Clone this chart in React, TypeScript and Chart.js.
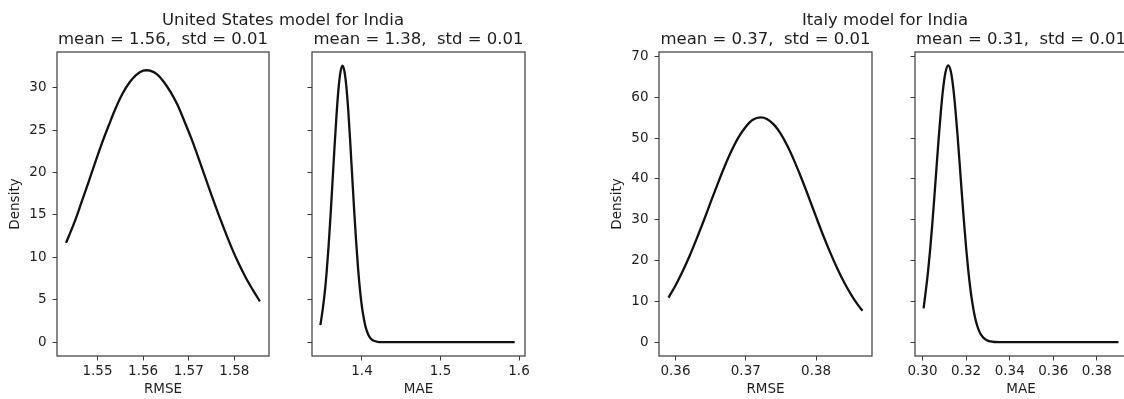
import React, { useEffect, useRef } from 'react';
import { Chart, registerables } from 'chart.js';

Chart.register(...registerables);

// ---------- data ----------
// United States model for India — RMSE density
const usRmseX = [1.5431, 1.545, 1.5465, 1.548, 1.5495, 1.551, 1.5525, 1.554, 1.5555, 1.557, 1.5585, 1.56, 1.5608, 1.5615, 1.563, 1.5645, 1.566, 1.5675, 1.569, 1.5705, 1.572, 1.5735, 1.575, 1.5765, 1.578, 1.5795, 1.581, 1.5825, 1.584, 1.5856];
const usRmseY = [11.7, 14.2, 16.5, 18.8, 21.2, 23.5, 25.6, 27.6, 29.3, 30.6, 31.5, 32.0, 32.05, 32.0, 31.6, 30.7, 29.5, 28.0, 26.1, 24.1, 21.9, 19.6, 17.3, 15.1, 13.0, 11.0, 9.2, 7.6, 6.2, 4.8];

// United States model for India — MAE density
const usMaeX = [1.347, 1.35, 1.3525, 1.355, 1.3575, 1.36, 1.3625, 1.365, 1.3675, 1.37, 1.3725, 1.3752, 1.3775, 1.38, 1.3825, 1.385, 1.3875, 1.39, 1.3925, 1.395, 1.3975, 1.4, 1.4025, 1.405, 1.4075, 1.41, 1.4125, 1.415, 1.42, 1.425, 1.44, 1.47, 1.5, 1.53, 1.56, 1.5945];
const usMaeY = [2.0, 3.9, 5.8, 8.3, 11.4, 15.0, 19.0, 23.0, 26.7, 29.8, 31.8, 32.6, 32.0, 30.2, 27.3, 23.6, 19.6, 15.6, 11.9, 8.7, 6.1, 4.1, 2.7, 1.65, 1.0, 0.56, 0.31, 0.16, 0.04, 0.01, 0, 0, 0, 0, 0, 0];

// Italy model for India — RMSE density
const itRmseX = [0.359, 0.36, 0.361, 0.362, 0.363, 0.364, 0.365, 0.366, 0.367, 0.368, 0.369, 0.37, 0.371, 0.3721, 0.373, 0.374, 0.375, 0.376, 0.377, 0.378, 0.379, 0.38, 0.381, 0.382, 0.383, 0.384, 0.385, 0.386, 0.3866];
const itRmseY = [10.9, 13.9, 17.3, 21.1, 25.3, 29.7, 34.3, 38.8, 43.1, 47.0, 50.3, 52.8, 54.5, 55.1, 54.7, 53.3, 51.0, 47.8, 44.0, 39.8, 35.3, 30.7, 26.2, 22.0, 18.1, 14.6, 11.6, 9.0, 7.7];

// Italy model for India — MAE density
const itMaeX = [0.3005, 0.3015, 0.3025, 0.3035, 0.3045, 0.3055, 0.3065, 0.3075, 0.3085, 0.3095, 0.3105, 0.3118, 0.313, 0.314, 0.315, 0.316, 0.317, 0.318, 0.319, 0.32, 0.321, 0.322, 0.323, 0.324, 0.325, 0.326, 0.327, 0.328, 0.3295, 0.331, 0.333, 0.336, 0.345, 0.36, 0.375, 0.3899];
const itMaeY = [8.3, 12.5, 17.1, 22.6, 29.0, 36.0, 43.3, 50.5, 57.0, 62.3, 66.0, 67.8, 66.3, 62.8, 57.6, 51.2, 44.1, 36.7, 29.7, 23.2, 17.6, 12.9, 9.2, 6.3, 4.2, 2.7, 1.7, 1.04, 0.46, 0.17, 0.04, 0.01, 0, 0, 0, 0];

// ticks
const usRmseTicks = [1.55, 1.56, 1.57, 1.58];
const usRmseTickLabels = ['1.55', '1.56', '1.57', '1.58'];
const usMaeTicks = [1.4, 1.5, 1.6];
const usMaeTickLabels = ['1.4', '1.5', '1.6'];
const itRmseTicks = [0.36, 0.37, 0.38];
const itRmseTickLabels = ['0.36', '0.37', '0.38'];
const itMaeTicks = [0.3, 0.32, 0.34, 0.36, 0.38];
const itMaeTickLabels = ['0.30', '0.32', '0.34', '0.36', '0.38'];
const usDensityTicks = [0, 5, 10, 15, 20, 25, 30];
const usDensityTickLabels = ['0', '5', '10', '15', '20', '25', '30'];
const itDensityTicks = [0, 10, 20, 30, 40, 50, 60, 70];
const itDensityTickLabels = ['0', '10', '20', '30', '40', '50', '60', '70'];

// titles
const suptitles = ['United States model for India', 'Italy model for India'];
const subtitles = ['mean = 1.56,  std = 0.01', 'mean = 1.38,  std = 0.01', 'mean = 0.37,  std = 0.01', 'mean = 0.31,  std = 0.01'];

// ---------- layout ----------
const FONT = "'DejaVu Sans', sans-serif";
const INK = '#1e1e1e';
const FRAME_COLOR = '#3a3a3a';
const H = 399;
const FRAME_TOP = 52;
const FRAME_H = 304;
const LW = 57;
const RP = 25;
const TICK_FONT = 13.5;

type PanelProps = {
  frameLeft: number;
  frameWidth: number;
  xMin: number;
  xMax: number;
  yMin: number;
  yMax: number;
  xs: number[];
  ys: number[];
  xTicks: number[];
  xTickLabels: string[];
  yTicks: number[];
  yTickLabels: string[] | null;
  xTitle: string;
  yTitle: string | null;
};

function Panel(p: PanelProps) {
  const ref = useRef<HTMLCanvasElement>(null);
  const cw = LW + p.frameWidth + RP;
  useEffect(() => {
    const canvas = ref.current;
    if (!canvas) return;
    const framePlugin = {
      id: 'frameBox',
      afterDraw(chart: any) {
        const { ctx, chartArea: a } = chart;
        ctx.save();
        ctx.strokeStyle = FRAME_COLOR;
        ctx.lineWidth = 1.2;
        ctx.strokeRect(a.left, a.top, a.right - a.left, a.bottom - a.top);
        ctx.restore();
      },
    };
    const chart = new Chart(canvas, {
      type: 'line',
      data: {
        datasets: [
          {
            data: p.xs.map((x, i) => ({ x, y: p.ys[i] })),
            borderColor: '#111111',
            borderWidth: 2.3,
            pointRadius: 0,
            tension: 0.4,
            cubicInterpolationMode: 'monotone',
            fill: false,
          } as any,
        ],
      },
      options: {
        responsive: false,
        maintainAspectRatio: false,
        animation: false,
        devicePixelRatio: 1,
        layout: { padding: { top: FRAME_TOP, right: RP, left: 0, bottom: 0 } },
        plugins: {
          legend: { display: false },
          tooltip: { enabled: false },
          title: { display: false },
        },
        scales: {
          x: {
            type: 'linear',
            min: p.xMin,
            max: p.xMax,
            afterBuildTicks: (s: any) => {
              s.ticks = p.xTicks.map((v) => ({ value: v }));
            },
            afterFit: (s: any) => {
              s.height = H - FRAME_TOP - FRAME_H;
            },
            ticks: {
              autoSkip: false,
              maxRotation: 0,
              padding: 3,
              color: INK,
              font: { family: FONT, size: TICK_FONT },
              callback: (_v: any, i: number) => p.xTickLabels[i],
            },
            grid: {
              drawOnChartArea: false,
              drawTicks: true,
              tickLength: 4.5,
              tickColor: FRAME_COLOR,
              tickWidth: 1,
            },
            border: { display: false },
            title: {
              display: true,
              text: p.xTitle,
              color: INK,
              font: { family: FONT, size: TICK_FONT },
              padding: { top: 0, bottom: 1 },
            },
          },
          y: {
            type: 'linear',
            min: p.yMin,
            max: p.yMax,
            afterBuildTicks: (s: any) => {
              s.ticks = p.yTicks.map((v) => ({ value: v }));
            },
            afterFit: (s: any) => {
              s.width = LW;
            },
            ticks: {
              autoSkip: false,
              padding: 6,
              color: INK,
              font: { family: FONT, size: TICK_FONT },
              callback: (_v: any, i: number) => (p.yTickLabels ? p.yTickLabels[i] : ''),
            },
            grid: {
              drawOnChartArea: false,
              drawTicks: true,
              tickLength: 4.5,
              tickColor: FRAME_COLOR,
              tickWidth: 1,
            },
            border: { display: false },
            title: {
              display: !!p.yTitle,
              text: p.yTitle || '',
              color: INK,
              font: { family: FONT, size: TICK_FONT },
              padding: { top: 7, bottom: 0 },
            },
          },
        },
      } as any,
      plugins: [framePlugin],
    });
    return () => chart.destroy();
  }, []);
  return (
    <canvas
      ref={ref}
      width={cw}
      height={H}
      style={{ position: 'absolute', left: p.frameLeft - LW, top: 0, width: cw, height: H }}
    />
  );
}

function Label({ text, cx, top, size }: { text: string; cx: number; top: number; size: number }) {
  return (
    <div
      style={{
        position: 'absolute',
        left: cx,
        top,
        transform: 'translateX(-50%)',
        fontFamily: FONT,
        fontSize: size,
        lineHeight: `${size}px`,
        color: INK,
        whiteSpace: 'pre',
      }}
    >
      {text}
    </div>
  );
}

export default function App() {
  const TITLE = 16.5;
  return (
    <div
      style={{
        position: 'absolute',
        left: 0,
        top: 0,
        width: 1124,
        height: H,
        overflow: 'hidden',
        background: '#ffffff',
      }}
    >
      <Panel
        frameLeft={57}
        frameWidth={212}
        xMin={1.541124}
        xMax={1.587585}
        yMin={-1.63}
        yMax={34.2}
        xs={usRmseX}
        ys={usRmseY}
        xTicks={usRmseTicks}
        xTickLabels={usRmseTickLabels}
        yTicks={usDensityTicks}
        yTickLabels={usDensityTickLabels}
        xTitle="RMSE"
        yTitle="Density"
      />
      <Panel
        frameLeft={312}
        frameWidth={213}
        xMin={1.33631}
        xMax={1.60764}
        yMin={-1.63}
        yMax={34.2}
        xs={usMaeX}
        ys={usMaeY}
        xTicks={usMaeTicks}
        xTickLabels={usMaeTickLabels}
        yTicks={usDensityTicks}
        yTickLabels={null}
        xTitle="MAE"
        yTitle={null}
      />
      <Panel
        frameLeft={659}
        frameWidth={213}
        xMin={0.357653}
        xMax={0.387952}
        yMin={-3.39}
        yMax={71.1}
        xs={itRmseX}
        ys={itRmseY}
        xTicks={itRmseTicks}
        xTickLabels={itRmseTickLabels}
        yTicks={itDensityTicks}
        yTickLabels={itDensityTickLabels}
        xTitle="RMSE"
        yTitle="Density"
      />
      <Panel
        frameLeft={915}
        frameWidth={212}
        xMin={0.29656}
        xMax={0.39381}
        yMin={-3.39}
        yMax={71.1}
        xs={itMaeX}
        ys={itMaeY}
        xTicks={itMaeTicks}
        xTickLabels={itMaeTickLabels}
        yTicks={itDensityTicks}
        yTickLabels={null}
        xTitle="MAE"
        yTitle={null}
      />
      <Label text={suptitles[0]} cx={283} top={12} size={TITLE} />
      <Label text={suptitles[1]} cx={885} top={12} size={TITLE} />
      <Label text={subtitles[0]} cx={163} top={30.5} size={TITLE} />
      <Label text={subtitles[1]} cx={418.5} top={30.5} size={TITLE} />
      <Label text={subtitles[2]} cx={765.5} top={30.5} size={TITLE} />
      <Label text={subtitles[3]} cx={1021} top={30.5} size={TITLE} />
    </div>
  );
}
